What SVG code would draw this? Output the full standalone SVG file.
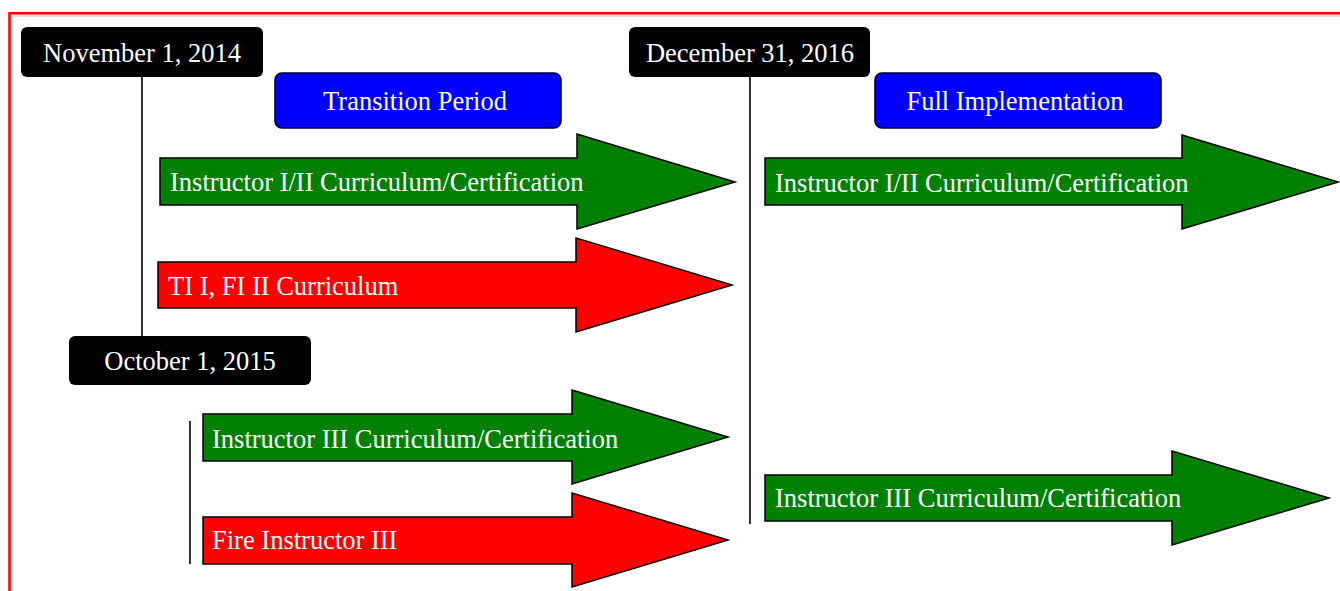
<svg xmlns="http://www.w3.org/2000/svg" width="1340" height="591" viewBox="0 0 1340 591">
<style>
.t{font-family:"Liberation Serif","Times New Roman",serif;font-size:26.5px;fill:#fff}
.c{text-anchor:middle}
.date{fill:#000}
.phase{fill:#0000ff;stroke:#000033;stroke-width:1.6}
.green{fill:#008000;stroke:#000;stroke-width:1.5;stroke-linejoin:miter}
.red{fill:#ff0000;stroke:#000;stroke-width:1.5;stroke-linejoin:miter}
.conn{stroke:#000;stroke-width:1.6;fill:none}
</style>
<rect x="0" y="0" width="1340" height="591" fill="#fff"/>
<rect x="11" y="15.5" width="1400" height="700" fill="none" stroke="#000" stroke-opacity="0.12" stroke-width="3"/>
<rect x="9.5" y="13.25" width="1400" height="700" fill="none" stroke="#ff0000" stroke-width="2.5"/>
<g id="connectors">
<line class="conn" x1="142" y1="77" x2="142" y2="337"/>
<line class="conn" x1="750" y1="77" x2="750" y2="524"/>
<line class="conn" x1="190" y1="421" x2="190" y2="564"/>
</g>
<g id="date-nov-2014">
<rect class="date" x="21" y="27" width="242" height="50" rx="6"/>
<text class="t c" x="142" y="62">November 1, 2014</text>
</g>
<g id="date-dec-2016">
<rect class="date" x="629" y="27" width="241" height="50" rx="6"/>
<text class="t c" x="750" y="62">December 31, 2016</text>
</g>
<g id="date-oct-2015">
<rect class="date" x="69" y="336" width="242" height="49" rx="6"/>
<text class="t c" x="190" y="370">October 1, 2015</text>
</g>
<g id="phase-transition">
<rect class="phase" x="275" y="73" width="286" height="55" rx="7"/>
<text class="t c" x="415" y="110">Transition Period</text>
</g>
<g id="phase-full">
<rect class="phase" x="875" y="73" width="286" height="55" rx="7"/>
<text class="t c" x="1015" y="110">Full Implementation</text>
</g>
<g id="arrow-transition-i-ii">
<polygon class="green" points="160,158 577,158 577,134 735,182 577,229 577,205 160,205"/>
<text class="t" x="170" y="190.5">Instructor I/II Curriculum/Certification</text>
</g>
<g id="arrow-ti-fi">
<polygon class="red" points="158,262 576,262 576,238 732,285 576,332 576,308 158,308"/>
<text class="t" x="168" y="295">TI I, FI II Curriculum</text>
</g>
<g id="arrow-transition-iii">
<polygon class="green" points="203,414 572,414 572,390 728,437 572,484 572,461 203,461"/>
<text class="t" x="212" y="447.5">Instructor III Curriculum/Certification</text>
</g>
<g id="arrow-fire-iii">
<polygon class="red" points="203,517 572,517 572,493 728,540 572,587 572,564 203,564"/>
<text class="t" x="212" y="549">Fire Instructor III</text>
</g>
<g id="arrow-full-i-ii">
<polygon class="green" points="765,158 1182,158 1182,135 1338,182 1182,229 1182,205 765,205"/>
<text class="t" x="775" y="191.5">Instructor I/II Curriculum/Certification</text>
</g>
<g id="arrow-full-iii">
<polygon class="green" points="765,475 1172,475 1172,451 1329,498 1172,545 1172,521 765,521"/>
<text class="t" x="775" y="507">Instructor III Curriculum/Certification</text>
</g>
</svg>
